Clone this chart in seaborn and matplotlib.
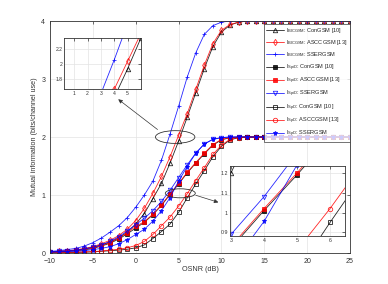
import numpy as np
import pandas as pd
import matplotlib
matplotlib.use("Agg")
import matplotlib.pyplot as plt
from matplotlib.patches import Ellipse
import seaborn as sns

# === data ===
osnr = list(range(-10, 26))

# BICGSM (GMI)
bic_con = [0.02, 0.025, 0.035, 0.05, 0.07, 0.10, 0.14, 0.19, 0.26, 0.36, 0.50, 0.68, 0.94, 1.20, 1.55,
           1.93, 2.34, 2.76, 3.18, 3.56, 3.81, 3.93, 3.98, 4.0] + [4.0] * 12
bic_ascc = [0.02, 0.03, 0.04, 0.055, 0.08, 0.11, 0.16, 0.22, 0.30, 0.41, 0.56, 0.77, 1.03, 1.32, 1.66,
            2.03, 2.40, 2.82, 3.24, 3.61, 3.84, 3.94, 3.98, 4.0] + [4.0] * 12
bic_sser = [0.03, 0.04, 0.06, 0.08, 0.12, 0.18, 0.26, 0.36, 0.47, 0.61, 0.79, 1.00, 1.24, 1.60, 2.05,
            2.53, 3.03, 3.45, 3.77, 3.92, 3.98, 4.0] + [4.0] * 14

# SpiD
spid_con = [0.02, 0.025, 0.03, 0.04, 0.055, 0.08, 0.12, 0.17, 0.24, 0.33, 0.43, 0.53, 0.66, 0.82, 1.01,
            1.19, 1.38, 1.55, 1.71, 1.86, 1.95, 1.99, 2.0] + [2.0] * 13
spid_ascc = [0.02, 0.025, 0.035, 0.045, 0.06, 0.09, 0.13, 0.18, 0.26, 0.35, 0.46, 0.54, 0.67, 0.83, 1.02,
             1.20, 1.39, 1.56, 1.72, 1.87, 1.96, 1.99, 2.0] + [2.0] * 13
spid_sser = [0.02, 0.03, 0.04, 0.05, 0.07, 0.10, 0.14, 0.20, 0.28, 0.38, 0.49, 0.60, 0.73, 0.89, 1.08,
             1.30, 1.52, 1.72, 1.88, 1.96, 1.99, 2.0] + [2.0] * 14

# SpD
spd_con = [0.005, 0.006, 0.008, 0.01, 0.015, 0.02, 0.03, 0.04, 0.05, 0.065, 0.09, 0.14, 0.25, 0.37, 0.50,
           0.70, 0.95, 1.19, 1.42, 1.66, 1.84, 1.95, 1.99, 2.0] + [2.0] * 12
spd_ascc = [0.005, 0.008, 0.01, 0.015, 0.02, 0.025, 0.035, 0.05, 0.065, 0.09, 0.13, 0.20, 0.32, 0.47, 0.62,
            0.81, 1.02, 1.25, 1.47, 1.70, 1.86, 1.96, 1.99, 2.0] + [2.0] * 12
spd_sser = [0.015, 0.02, 0.025, 0.03, 0.04, 0.06, 0.08, 0.11, 0.16, 0.23, 0.32, 0.41, 0.55, 0.73, 0.955,
            1.24, 1.49, 1.72, 1.88, 1.96, 1.99, 2.0] + [2.0] * 14

labels = [r"I$_{\rm BICGSM}$: ConGSM [10]", r"I$_{\rm BICGSM}$: ASCCGSM [13]", r"I$_{\rm BICGSM}$: SSERGSM",
          r"I$_{\rm SpiD}$: ConGSM [10]", r"I$_{\rm SpiD}$: ASCCGSM [13]", r"I$_{\rm SpiD}$: SSERGSM",
          r"I$_{\rm SpD}$: ConGSM [10]", r"I$_{\rm SpD}$: ASCCGSM [13]", r"I$_{\rm SpD}$: SSERGSM"]
series = [bic_con, bic_ascc, bic_sser, spid_con, spid_ascc, spid_sser, spd_con, spd_ascc, spd_sser]

# style per series: colour, marker, filled?, marker size
styles = [("black", "^", False, 3.2), ("red", "d", False, 3.2), ("blue", "+", True, 3.5),
          ("black", "s", True, 2.2), ("red", "s", True, 2.6), ("blue", "v", False, 3.2),
          ("black", "s", False, 2.8), ("red", "o", False, 3.2), ("blue", "*", True, 3.6)]

# === figure ===
sns.set_theme(style="whitegrid")
plt.rcParams["font.family"] = ["Liberation Sans", "DejaVu Sans"]
plt.rcParams["mathtext.fontset"] = "custom"
plt.rcParams["mathtext.rm"] = "Liberation Sans"

fig = plt.figure(figsize=(3.88, 2.84), dpi=100)
ax = fig.add_axes([0.129, 0.109, 0.773, 0.817])


def draw(a, with_labels):
    for lab, vals, (c, m, filled, ms) in zip(labels, series, styles):
        sns.lineplot(x=osnr, y=vals, ax=a, color=c, marker=m, markersize=ms, linewidth=0.6,
                     markeredgewidth=0.6, markeredgecolor=c,
                     markerfacecolor=c if filled else "none",
                     label=lab if with_labels else None, legend=False, alpha=0.85)


def style_axes(a, fs, pad):
    a.set_facecolor("white")
    a.grid(True, color="#e3e3e3", linewidth=0.5)
    for s in a.spines.values():
        s.set_color("#333333")
        s.set_linewidth(0.6)
    a.tick_params(direction="in", top=True, right=True, length=2, width=0.5,
                  labelsize=fs, pad=pad, colors="#333333")


draw(ax, True)
style_axes(ax, 5, 3.5)
ax.set_xlim(-10, 25)
ax.set_ylim(0, 4)
ax.set_xticks(range(-10, 26, 5))
ax.set_yticks([0, 1, 2, 3, 4])
ax.set_xlabel("OSNR (dB)", fontsize=5.2, labelpad=1, color="#333333")
ax.set_ylabel("Mutual information (bits/channel use)", fontsize=5.2, labelpad=2, color="#333333")

leg = ax.legend(loc="upper right", bbox_to_anchor=(1.0, 0.988), fontsize=4.1, frameon=True,
                fancybox=False, edgecolor="#333333", handlelength=3.2, labelspacing=0.55,
                borderpad=0.4, handletextpad=0.4, borderaxespad=0)
leg.get_frame().set_linewidth(0.6)

# ellipses and arrows
ax.add_patch(Ellipse((4.6, 2.0), 4.6, 0.22, fill=False, edgecolor="#333333", lw=0.6, zorder=5))
ax.add_patch(Ellipse((5.2, 1.03), 3.5, 0.155, fill=False, edgecolor="#333333", lw=0.6, zorder=5))
ax.annotate("", xy=(-2.3, 2.68), xytext=(2.8, 2.1),
            arrowprops=dict(arrowstyle="-|>", color="#333333", lw=0.5, mutation_scale=6))
ax.annotate("", xy=(9.95, 0.86), xytext=(6.7, 1.01),
            arrowprops=dict(arrowstyle="-|>", color="#333333", lw=0.5, mutation_scale=6))

# inset 1 (BICGSM around 2)
ins1 = ax.inset_axes([0.048, 0.706, 0.255, 0.221])
draw(ins1, False)
style_axes(ins1, 3.6, 1.5)
ins1.set_xlim(0.27, 6.0)
ins1.set_ylim(1.66, 2.34)
ins1.set_xticks([1, 2, 3, 4, 5])
ins1.set_yticks([1.8, 2.0, 2.2])
ins1.set_yticklabels(["1.8", "2", "2.2"])
ins1.set_xlabel("")
ins1.set_ylabel("")

# inset 2 (SpiD / SpD around 1)
ins2 = ax.inset_axes([0.6, 0.072, 0.383, 0.305])
draw(ins2, False)
style_axes(ins2, 3.8, 1.5)
ins2.set_xlim(2.97, 6.45)
ins2.set_ylim(0.88, 1.237)
ins2.set_xticks([3, 4, 5, 6])
ins2.set_yticks([0.9, 1.0, 1.1, 1.2])
ins2.set_yticklabels(["0.9", "1", "1.1", "1.2"])
ins2.set_xlabel("")
ins2.set_ylabel("")

fig.savefig("out.png", dpi=100)
